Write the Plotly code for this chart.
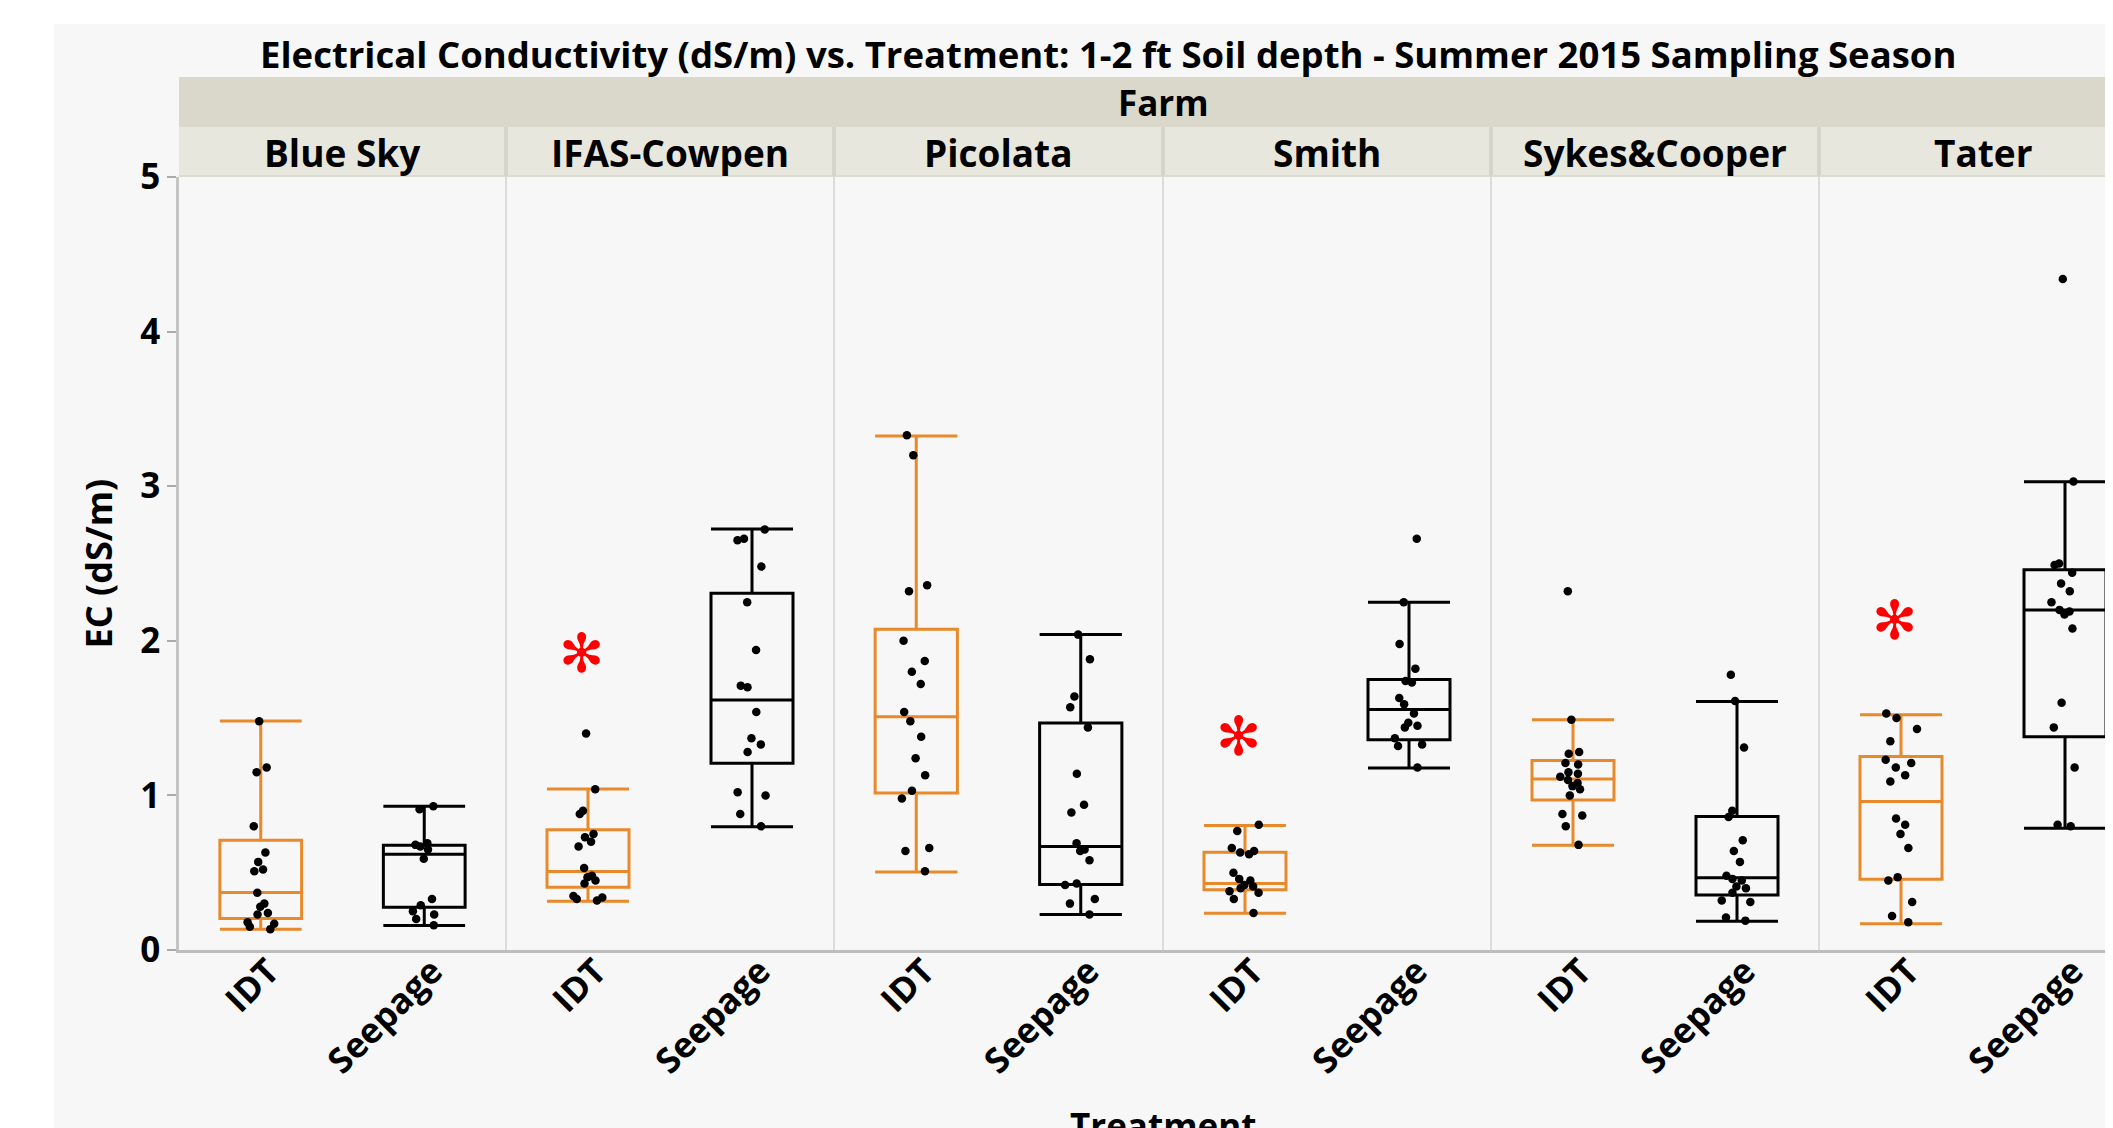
import plotly.graph_objects as go

# ---------------- data ----------------
farms = ["Blue Sky", "IFAS-Cowpen", "Picolata", "Smith", "Sykes&Cooper", "Tater"]
treatments = ["IDT", "Seepage"]

# box statistics, order: farm x treatment (IDT, Seepage)
lower_whisker = [0.135, 0.159, 0.315, 0.798, 0.504, 0.230, 0.237, 1.177, 0.677, 0.186, 0.169, 0.788]
quartile1     = [0.203, 0.277, 0.406, 1.208, 1.015, 0.423, 0.389, 1.360, 0.971, 0.355, 0.457, 1.380]
medians       = [0.372, 0.619, 0.507, 1.617, 1.509, 0.670, 0.430, 1.556, 1.106, 0.467, 0.961, 2.199]
quartile3     = [0.710, 0.677, 0.778, 2.307, 2.074, 1.468, 0.633, 1.749, 1.225, 0.863, 1.252, 2.459]
upper_whisker = [1.482, 0.930, 1.042, 2.723, 3.325, 2.040, 0.805, 2.250, 1.489, 1.607, 1.522, 3.028]

# individual samples (EC, dS/m)
blue_sky_idt = [1.48, 1.18, 1.15, 0.80, 0.63, 0.57, 0.52, 0.51, 0.37, 0.30, 0.28, 0.24, 0.23, 0.18, 0.17, 0.15, 0.135]
blue_sky_seep = [0.93, 0.91, 0.69, 0.68, 0.67, 0.65, 0.59, 0.33, 0.29, 0.25, 0.23, 0.20, 0.16]
ifas_idt = [1.40, 1.04, 0.90, 0.88, 0.75, 0.73, 0.70, 0.67, 0.53, 0.48, 0.47, 0.45, 0.43, 0.35, 0.34, 0.33, 0.32]
ifas_seep = [2.72, 2.66, 2.65, 2.48, 2.25, 1.94, 1.71, 1.70, 1.54, 1.37, 1.33, 1.28, 1.02, 1.00, 0.88, 0.80]
picolata_idt = [3.33, 3.20, 2.36, 2.32, 2.00, 1.87, 1.80, 1.72, 1.54, 1.48, 1.38, 1.24, 1.13, 1.03, 0.98, 0.66, 0.64, 0.51]
picolata_seep = [2.04, 1.88, 1.64, 1.57, 1.44, 1.14, 0.94, 0.89, 0.69, 0.65, 0.64, 0.58, 0.43, 0.42, 0.33, 0.30, 0.23]
smith_idt = [0.81, 0.77, 0.66, 0.64, 0.63, 0.62, 0.50, 0.46, 0.45, 0.42, 0.41, 0.40, 0.38, 0.37, 0.33, 0.24]
smith_seep = [2.66, 2.25, 1.98, 1.82, 1.74, 1.73, 1.63, 1.59, 1.53, 1.47, 1.45, 1.44, 1.37, 1.33, 1.32, 1.18]
sykes_idt = [2.32, 1.49, 1.28, 1.27, 1.21, 1.20, 1.15, 1.14, 1.12, 1.10, 1.08, 1.06, 1.04, 1.00, 0.88, 0.87, 0.80, 0.68]
sykes_seep = [1.78, 1.61, 1.31, 0.90, 0.86, 0.71, 0.64, 0.57, 0.48, 0.46, 0.45, 0.41, 0.40, 0.37, 0.32, 0.31, 0.21, 0.19]
tater_idt = [1.53, 1.50, 1.43, 1.35, 1.23, 1.21, 1.18, 1.13, 1.09, 0.85, 0.81, 0.75, 0.66, 0.47, 0.45, 0.31, 0.22, 0.18]
tater_seep = [4.34, 3.03, 2.50, 2.49, 2.44, 2.37, 2.32, 2.25, 2.20, 2.19, 2.17, 2.08, 1.60, 1.44, 1.18, 0.81, 0.80]

samples = [blue_sky_idt, blue_sky_seep, ifas_idt, ifas_seep, picolata_idt, picolata_seep,
           smith_idt, smith_seep, sykes_idt, sykes_seep, tater_idt, tater_seep]

# significance markers (farm, EC level) above IDT boxes
star_farms = ["IFAS-Cowpen", "Smith", "Tater"]
star_levels = [1.92, 1.38, 2.13]

y_ticks = [0, 1, 2, 3, 4, 5]

# ---------------- layout helpers ----------------
OFF = 8                      # page body margin
PW, PH = 2113, 1128          # window size
W, H = PW - OFF, PH - OFF    # figure size
def fx(p):
    return (p - OFF) / W
def fy(p):
    return 1 - (p - OFF) / H

PLOT_TOP, PLOT_BOT = 177, 950
edges = [179, 506, 834, 1163, 1491, 1819, 2147]
ORANGE = "#E8892B"
FONT = "Open Sans"

fig = go.Figure()
layout = dict(
    width=W, height=H,
    margin=dict(l=0, r=0, t=0, b=0, pad=0, autoexpand=False),
    paper_bgcolor="white", plot_bgcolor="white",
    boxmode="overlay", showlegend=False,
    font=dict(family=FONT, color="black"),
)

for i, farm in enumerate(farms):
    x0, x1 = edges[i], edges[i + 1]
    vis = min(x1, PW)
    hi = -0.5 + 2.0 * (vis - x0) / (x1 - x0)
    name = "xaxis" if i == 0 else f"xaxis{i+1}"
    layout[name] = dict(
        domain=[fx(x0), min(1.0, fx(vis))], range=[-0.5, hi], anchor="y",
        tickmode="array", tickvals=[0, 1], ticktext=treatments, tickangle=-45,
        tickfont=dict(family=FONT, size=35, color="black", weight=700),
        ticklabelstandoff=-16, ticklabelshift=8,
        showline=True, linecolor="#BDBDBD", linewidth=2.5,
        showgrid=False, zeroline=False, ticks="", fixedrange=True, automargin=False,
    )
    ax = "x" if i == 0 else f"x{i+1}"
    for j, tr in enumerate(treatments):
        k = 2 * i + j
        col = ORANGE if tr == "IDT" else "black"
        fig.add_trace(go.Box(
            x=[j], q1=[quartile1[k]], median=[medians[k]], q3=[quartile3[k]],
            lowerfence=[lower_whisker[k]], upperfence=[upper_whisker[k]],
            width=0.5, whiskerwidth=1, boxpoints=False,
            line=dict(color=col, width=3), fillcolor="rgba(0,0,0,0)",
            xaxis=ax, yaxis="y", hoverinfo="skip",
        ))
        fig.add_trace(go.Box(
            y=samples[k], x0=j, width=0.5, boxpoints="all", jitter=0.45, pointpos=0,
            marker=dict(color="black", size=8.5),
            line=dict(width=0, color="rgba(0,0,0,0)"), fillcolor="rgba(0,0,0,0)",
            xaxis=ax, yaxis="y",
        ))

layout["yaxis"] = dict(
    domain=[fy(PLOT_BOT), fy(PLOT_TOP)], range=[0, 5], anchor="x",
    tickmode="array", tickvals=y_ticks,
    tickfont=dict(family=FONT, size=35, color="black", weight=700),
    ticks="outside", ticklen=9, tickwidth=2, tickcolor="#AAAAAA",
    showline=True, linecolor="#C4C4C4", linewidth=2.5,
    showgrid=False, zeroline=False, fixedrange=True, automargin=False,
)

shapes = []
# gray frame background
shapes.append(dict(type="rect", xref="paper", yref="paper", x0=fx(54), x1=1, y0=0, y1=fy(24),
                   fillcolor="#F7F7F7", line=dict(width=0), layer="below"))
# strips
shapes.append(dict(type="rect", xref="paper", yref="paper", x0=fx(179), x1=1, y0=fy(127), y1=fy(77),
                   fillcolor="#DAD8CA", line=dict(width=0), layer="below"))
shapes.append(dict(type="rect", xref="paper", yref="paper", x0=fx(179), x1=1, y0=fy(177), y1=fy(127),
                   fillcolor="#E7E7DE", line=dict(width=0), layer="below"))
shapes.append(dict(type="line", xref="paper", yref="paper", x0=fx(179), x1=1, y0=fy(176), y1=fy(176),
                   line=dict(color="#DCDCD2", width=2), layer="above"))
for e in edges[1:-1]:
    shapes.append(dict(type="line", xref="paper", yref="paper", x0=fx(e), x1=fx(e), y0=fy(PLOT_BOT), y1=fy(PLOT_TOP),
                       line=dict(color="#DCDCDC", width=2), layer="above"))
    shapes.append(dict(type="line", xref="paper", yref="paper", x0=fx(e), x1=fx(e), y0=fy(176), y1=fy(127),
                       line=dict(color="#D6D5CA", width=4), layer="above"))
layout["shapes"] = shapes

ann = []
ann.append(dict(text="Electrical Conductivity (dS/m) vs. Treatment: 1-2 ft Soil depth - Summer 2015 Sampling Season",
                xref="paper", yref="paper", x=fx(1108), y=fy(54), showarrow=False,
                xanchor="center", yanchor="middle",
                font=dict(family=FONT, size=36.5, color="black", weight=700)))
ann.append(dict(text="Farm", xref="paper", yref="paper", x=fx((edges[0] + edges[-1]) / 2), y=fy(102),
                showarrow=False, xanchor="center", yanchor="middle",
                font=dict(family=FONT, size=35, color="black", weight=700)))
for i, farm in enumerate(farms):
    ann.append(dict(text=farm, xref="paper", yref="paper", x=fx((edges[i] + edges[i + 1]) / 2), y=fy(153),
                    showarrow=False, xanchor="center", yanchor="middle",
                    font=dict(family=FONT, size=37, color="black", weight=700)))
ann.append(dict(text="EC (dS/m)", xref="paper", yref="paper", x=fx(98), y=fy((PLOT_TOP + PLOT_BOT) / 2),
                showarrow=False, textangle=-90, xanchor="center", yanchor="middle",
                font=dict(family=FONT, size=36, color="black", weight=700)))
ann.append(dict(text="Treatment", xref="paper", yref="paper", x=fx(1163), y=fy(1100),
                showarrow=False, xanchor="center", yanchor="top",
                font=dict(family=FONT, size=35, color="black", weight=700)))
for f, lv in zip(star_farms, star_levels):
    i = farms.index(f)
    ax = "x" if i == 0 else f"x{i+1}"
    ann.append(dict(text="✻", xref=ax, yref="y", x=0, y=lv, showarrow=False, xshift=-7,
                    xanchor="center", yanchor="middle",
                    font=dict(family="DejaVu Sans", size=54, color="red")))
layout["annotations"] = ann

fig.update_layout(**layout)
fig.write_html("out.html")
